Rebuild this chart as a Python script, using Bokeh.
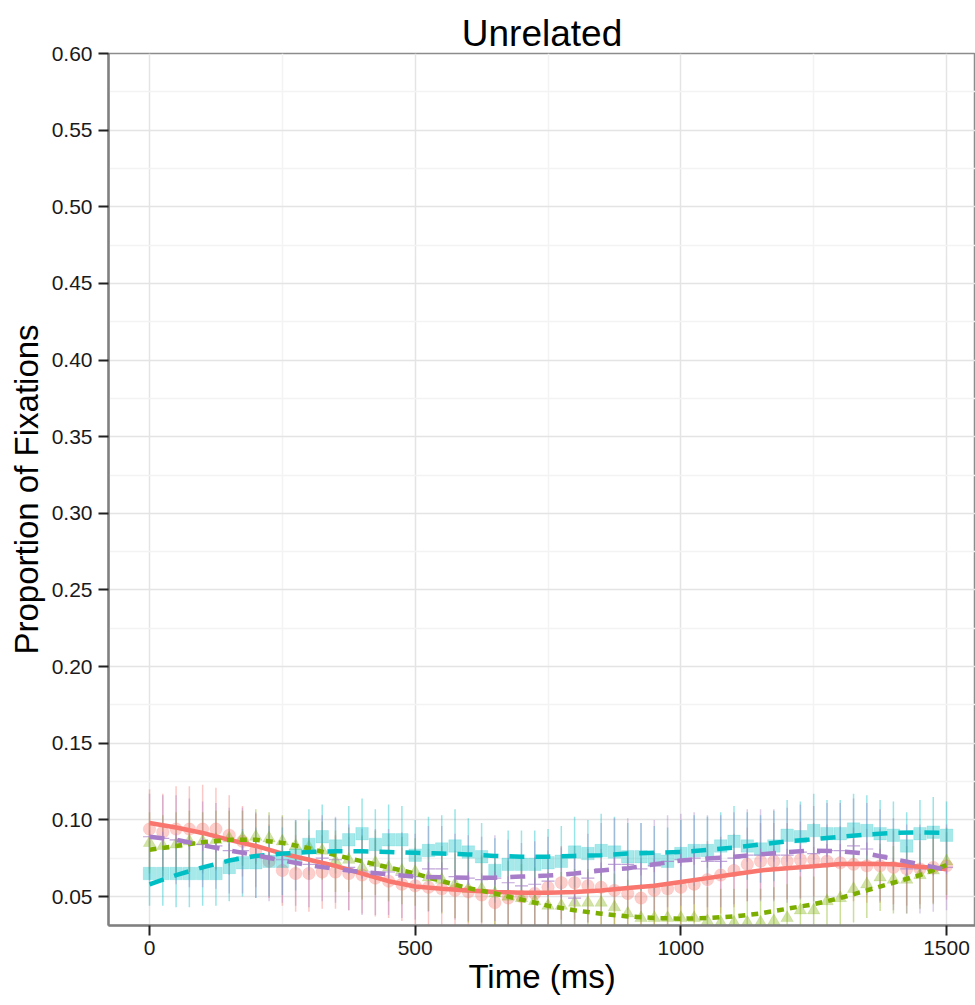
from bokeh.plotting import figure
from bokeh.models import Range1d, FixedTicker, PrintfTickFormatter
from bokeh.embed import file_html
from bokeh.resources import INLINE

# ---------------- data ----------------
time_ms = list(range(0, 1525, 25))
fit_time = list(range(0, 1550, 50))

x_ticks = [0, 500, 1000, 1500]
x_minor = [250, 750, 1250]
y_ticks = [0.05, 0.10, 0.15, 0.20, 0.25, 0.30, 0.35, 0.40, 0.45, 0.50, 0.55, 0.60]
y_minor = [0.075, 0.125, 0.175, 0.225, 0.275, 0.325, 0.375, 0.425, 0.475, 0.525, 0.575]

red_pts = [0.094, 0.092, 0.094, 0.094, 0.094, 0.094, 0.090, 0.086, 0.080, 0.073,
           0.067, 0.065, 0.065, 0.066, 0.066, 0.065, 0.064, 0.062, 0.060, 0.058,
           0.057, 0.056, 0.055, 0.054, 0.053, 0.051, 0.046, 0.049, 0.050, 0.052,
           0.056, 0.059, 0.059, 0.057, 0.056, 0.054, 0.052, 0.049, 0.054, 0.055,
           0.056, 0.058, 0.061, 0.064, 0.067, 0.071, 0.073, 0.073, 0.073, 0.074,
           0.074, 0.073, 0.072, 0.071, 0.070, 0.070, 0.069, 0.068, 0.068, 0.069, 0.070]
red_se = [0.026, 0.025, 0.028, 0.028, 0.029, 0.027, 0.026, 0.023,
          0.024, 0.024, 0.023, 0.025, 0.025, 0.024, 0.024, 0.024,
          0.025, 0.025, 0.024, 0.024, 0.025, 0.025, 0.024, 0.024,
          0.025, 0.025, 0.026, 0.025, 0.025, 0.024, 0.024, 0.024,
          0.024, 0.024, 0.025, 0.025, 0.025, 0.026, 0.025, 0.025,
          0.025, 0.025, 0.025, 0.025, 0.024, 0.024, 0.025, 0.025,
          0.025, 0.025, 0.024, 0.024, 0.024, 0.024, 0.024, 0.024,
          0.024, 0.024, 0.023, 0.023, 0.022]
red_fit = [0.098, 0.095, 0.0915, 0.087, 0.083, 0.078, 0.074, 0.070, 0.065, 0.060,
           0.0565, 0.055, 0.054, 0.053, 0.0525, 0.0525, 0.053, 0.054, 0.0555, 0.057,
           0.0595, 0.062, 0.0645, 0.067, 0.0685, 0.0698, 0.0712, 0.0714, 0.071, 0.0695, 0.068]

teal_pts = [0.065, 0.065, 0.065, 0.065, 0.065, 0.065, 0.069, 0.072, 0.072, 0.073,
            0.073, 0.077, 0.084, 0.089, 0.083, 0.087, 0.091, 0.084, 0.087, 0.087,
            0.077, 0.080, 0.081, 0.083, 0.079, 0.076, 0.067, 0.071, 0.071, 0.071,
            0.072, 0.073, 0.079, 0.078, 0.080, 0.079, 0.076, 0.076, 0.074, 0.073,
            0.078, 0.080, 0.080, 0.083, 0.086, 0.083, 0.081, 0.083, 0.090, 0.089,
            0.093, 0.091, 0.091, 0.094, 0.093, 0.091, 0.090, 0.083, 0.091, 0.092, 0.090]
teal_se = [0.021, 0.021, 0.022, 0.022, 0.021, 0.021, 0.022, 0.022,
           0.023, 0.023, 0.022, 0.023, 0.023, 0.021, 0.018, 0.022,
           0.023, 0.023, 0.023, 0.022, 0.023, 0.022, 0.022, 0.024,
           0.022, 0.022, 0.021, 0.022, 0.022, 0.022, 0.022, 0.023,
           0.023, 0.022, 0.024, 0.023, 0.022, 0.022, 0.022, 0.022,
           0.022, 0.023, 0.022, 0.022, 0.023, 0.022, 0.022, 0.023,
           0.023, 0.023, 0.024, 0.022, 0.022, 0.023, 0.023, 0.022,
           0.022, 0.022, 0.022, 0.023, 0.022]
teal_fit = [0.058, 0.064, 0.069, 0.0735, 0.0765, 0.078, 0.079, 0.0795, 0.0795, 0.079,
            0.0785, 0.078, 0.0775, 0.0765, 0.076, 0.076, 0.0765, 0.077, 0.078, 0.0785,
            0.079, 0.0805, 0.082, 0.084, 0.086, 0.0875, 0.089, 0.0905, 0.0915, 0.0918, 0.0915]

green_pts = [0.085, 0.083, 0.084, 0.086, 0.086, 0.087, 0.088, 0.088, 0.089, 0.088,
             0.086, 0.083, 0.082, 0.080, 0.073, 0.074, 0.069, 0.072, 0.069, 0.067,
             0.066, 0.0625, 0.061, 0.058, 0.055, 0.055, 0.052, 0.050, 0.049, 0.047,
             0.044, 0.044, 0.046, 0.046, 0.046, 0.043, 0.039, 0.036, 0.036, 0.036,
             0.036, 0.036, 0.034, 0.033, 0.033, 0.033, 0.033, 0.034, 0.036, 0.041,
             0.041, 0.047, 0.049, 0.055, 0.058, 0.0625, 0.061, 0.061, 0.064, 0.067, 0.073]
green_se = [0.020, 0.020, 0.021, 0.020, 0.019, 0.019, 0.018, 0.018,
            0.018, 0.017, 0.017, 0.016, 0.018, 0.019, 0.020, 0.021,
            0.021, 0.021, 0.022, 0.022, 0.022, 0.022, 0.022, 0.022,
            0.022, 0.022, 0.023, 0.023, 0.022, 0.022, 0.022, 0.022,
            0.022, 0.022, 0.022, 0.022, 0.022, 0.022, 0.022, 0.022,
            0.022, 0.022, 0.022, 0.022, 0.022, 0.022, 0.022, 0.022,
            0.022, 0.022, 0.022, 0.022, 0.022, 0.022, 0.022, 0.022,
            0.022, 0.022, 0.022, 0.022, 0.022]
green_fit = [0.0805, 0.083, 0.0855, 0.087, 0.087, 0.085, 0.0815, 0.077, 0.073, 0.069,
             0.065, 0.060, 0.0555, 0.052, 0.048, 0.044, 0.041, 0.0388, 0.037, 0.036,
             0.0355, 0.036, 0.037, 0.039, 0.042, 0.045, 0.049, 0.054, 0.059, 0.064, 0.0705]

purple_pts = [0.089, 0.088, 0.087, 0.085, 0.084, 0.083, 0.080, 0.080, 0.077, 0.075,
              0.074, 0.072, 0.071, 0.075, 0.074, 0.069, 0.066, 0.066, 0.066, 0.064,
              0.063, 0.068, 0.068, 0.063, 0.062, 0.061, 0.062, 0.059, 0.057, 0.058,
              0.060, 0.053, 0.049, 0.062, 0.068, 0.071, 0.071, 0.068, 0.070, 0.073,
              0.074, 0.075, 0.073, 0.073, 0.075, 0.077, 0.077, 0.077, 0.077, 0.079,
              0.078, 0.080, 0.080, 0.083, 0.081, 0.077, 0.071, 0.068, 0.068, 0.068, 0.069]
purple_se = [0.028, 0.028, 0.029, 0.029, 0.028, 0.028, 0.028, 0.028,
             0.028, 0.028, 0.028, 0.028, 0.028, 0.028, 0.028, 0.028,
             0.028, 0.028, 0.028, 0.028, 0.028, 0.028, 0.028, 0.028,
             0.028, 0.028, 0.028, 0.028, 0.028, 0.028, 0.029, 0.029,
             0.029, 0.029, 0.030, 0.030, 0.030, 0.030, 0.030, 0.030,
             0.030, 0.030, 0.030, 0.030, 0.030, 0.030, 0.030, 0.030,
             0.031, 0.031, 0.031, 0.031, 0.031, 0.031, 0.030, 0.030,
             0.030, 0.029, 0.029, 0.028, 0.028]
purple_fit = [0.089, 0.087, 0.0835, 0.080, 0.077, 0.0735, 0.0705, 0.068, 0.066, 0.0645,
              0.063, 0.0625, 0.0623, 0.0623, 0.063, 0.0637, 0.065, 0.067, 0.0685, 0.071,
              0.0735, 0.0748, 0.076, 0.0775, 0.079, 0.080, 0.0795, 0.078, 0.0745, 0.071, 0.0675]

RED, GREEN, TEAL, PURPLE = "#F8766D", "#7CAE00", "#00BFC4", "#A77DC9"
FONT = "Liberation Sans"

# ---------------- figure ----------------
p = figure(width=975, height=1005, output_backend="svg", toolbar_location=None,
           x_range=Range1d(-77.2, 1554.5), y_range=Range1d(0.0311, 0.60),
           min_border_left=108, min_border_right=0, min_border_top=53, min_border_bottom=80,
           background_fill_color="white", border_fill_color="white")

p.title.text = "Unrelated"
p.title.align = "center"
p.title.text_font = FONT
p.title.text_font_size = "37px"
p.title.text_font_style = "normal"
p.title.text_color = "#000000"
p.title.standoff = 0

p.outline_line_color = "#8c8c8c"
p.outline_line_width = 1.5

for ax in (p.xaxis[0], p.yaxis[0]):
    ax.axis_line_color = "#808080"
    ax.axis_line_width = 2.5
    ax.major_tick_line_color = "#222222"
    ax.major_tick_line_width = 2
    ax.major_tick_in = 0
    ax.major_tick_out = 10
    ax.minor_tick_line_color = None
    ax.major_label_text_font = FONT
    ax.major_label_text_font_size = "21px"
    ax.major_label_text_color = "#1a1a1a"
    ax.axis_label_text_font = FONT
    ax.axis_label_text_font_size = "33px"
    ax.axis_label_text_font_style = "normal"
    ax.axis_label_text_color = "#000000"

p.xaxis.ticker = FixedTicker(ticks=x_ticks, minor_ticks=x_minor)
p.yaxis.ticker = FixedTicker(ticks=y_ticks, minor_ticks=y_minor)
p.yaxis.formatter = PrintfTickFormatter(format="%.2f")
p.xaxis.axis_label = "Time (ms)"
p.yaxis.axis_label = "Proportion of Fixations"
p.xaxis.major_label_standoff = 5
p.yaxis.major_label_standoff = 6
p.xaxis.axis_label_standoff = 0
p.yaxis.axis_label_standoff = 4

p.xgrid.ticker = FixedTicker(ticks=x_ticks, minor_ticks=x_minor)
p.ygrid.ticker = FixedTicker(ticks=y_ticks, minor_ticks=y_minor)
for g in (p.xgrid[0], p.ygrid[0]):
    g.grid_line_color = "#E4E4E4"
    g.grid_line_width = 1.5
    g.minor_grid_line_color = "#F3F3F3"
    g.minor_grid_line_width = 1.5

series = [
    (red_pts, red_se, red_fit, RED, "circle", None),
    (green_pts, green_se, green_fit, GREEN, "triangle", "7 6"),
    (teal_pts, teal_se, teal_fit, TEAL, "square", "15 11"),
    (purple_pts, purple_se, purple_fit, PURPLE, "cross", "15 13"),
]

# error bars
for pts, se, fit, col, mk, dash in series:
    lo = [v - s for v, s in zip(pts, se)]
    hi = [v + s for v, s in zip(pts, se)]
    p.segment(x0=time_ms, y0=lo, x1=time_ms, y1=hi, line_color=col,
              line_width=1.5, line_alpha=0.4)

# points
for pts, se, fit, col, mk, dash in series:
    if mk == "cross":
        p.scatter(time_ms, pts, marker="cross", size=13, line_color=col,
                  line_width=1.2, line_alpha=0.7)
    else:
        p.scatter(time_ms, pts, marker=mk, size=12.5, fill_color=col,
                  fill_alpha=0.35, line_color=col, line_alpha=0.15)

# smooth fits
for pts, se, fit, col, mk, dash in series:
    if dash is None:
        p.line(fit_time, fit, line_color=col, line_width=4.5)
    else:
        p.line(fit_time, fit, line_color=col, line_width=4.5, line_dash=dash)

open("out.html", "w").write(file_html(p, INLINE))
